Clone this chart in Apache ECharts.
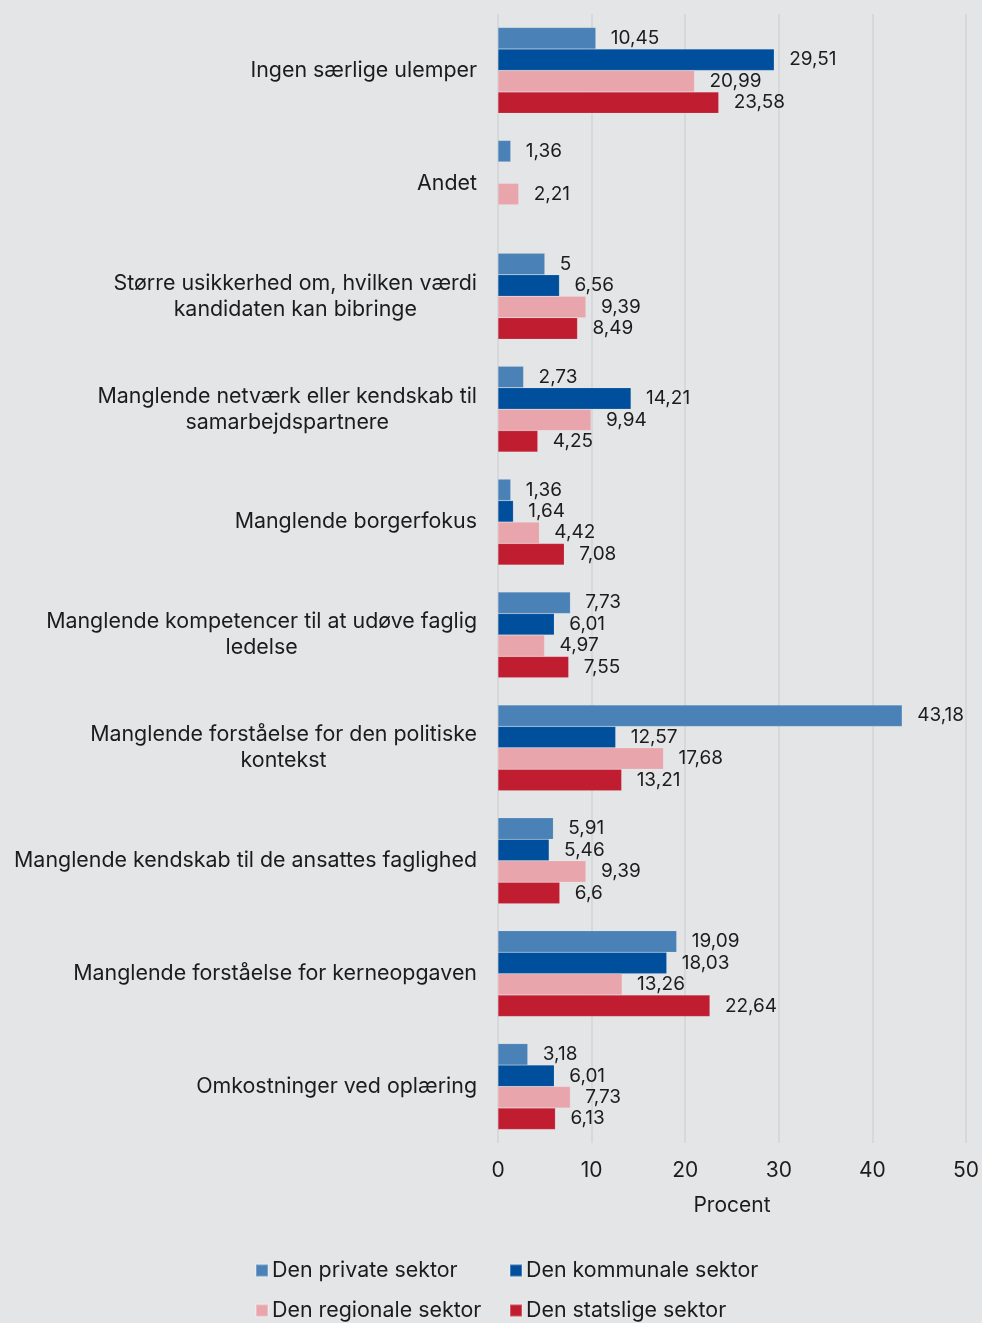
<!DOCTYPE html>
<html>
<head>
<meta charset="utf-8">
<script src="https://cdn.jsdelivr.net/npm/echarts@6/dist/echarts.min.js"></script>
<style>
  html, body { margin: 0; padding: 0; background: #e4e5e7; }
  #chart { width: 982px; height: 1323px; }
</style>
</head>
<body>
<div id="chart"></div>
<script>
// kategorier, oppefra og ned
var categories = [
	'Ingen særlige ulemper',
	'Andet',
	'Større usikkerhed om, hvilken værdi\nkandidaten kan bibringe',
	'Manglende netværk eller kendskab til\nsamarbejdspartnere',
	'Manglende borgerfokus',
	'Manglende kompetencer til at udøve faglig\nledelse',
	'Manglende forståelse for den politiske\nkontekst',
	'Manglende kendskab til de ansattes faglighed',
	'Manglende forståelse for kerneopgaven',
	'Omkostninger ved oplæring'
];

var privat    = [10.45, 1.36, 5,    2.73,  1.36, 7.73, 43.18, 5.91, 19.09, 3.18];
var kommunal  = [29.51, null, 6.56, 14.21, 1.64, 6.01, 12.57, 5.46, 18.03, 6.01];
var regional  = [20.99, 2.21, 9.39, 9.94,  4.42, 4.97, 17.68, 9.39, 13.26, 7.73];
var statslig  = [23.58, null, 8.49, 4.25,  7.08, 7.55, 13.21, 6.6,  22.64, 6.13];

var seriesNames = ['Den private sektor', 'Den kommunale sektor', 'Den regionale sektor', 'Den statslige sektor'];
var seriesData = [privat, kommunal, regional, statslig];
var colors = ['#4a81b6', '#004f9d', '#e8a6ac', '#c01d31'];

var xTicks = [0, 10, 20, 30, 40, 50];

var font = 'Inter, "Noto Sans", sans-serif';
var textColor = '#1c1c1c';

function komma(v){
	return String(v).replace('.', ',');
}

// flerlinjede etiketter centreres linje for linje
function catLabel(v){
	return v.split('\n').map(function(l){ return '{c|' + l + '}'; }).join('\n');
}

var series = seriesNames.map(function(name, i){
	return {
		name: name,
		type: 'bar',
		data: seriesData[i],
		barGap: '0%',
		barCategoryGap: '24%',
		itemStyle: { color: colors[i], borderColor: 'rgba(255,255,255,0.25)', borderWidth: 0.5 },
		label: {
			show: true,
			position: 'right',
			distance: 15,
			fontFamily: font,
			fontSize: 19,
			color: textColor,
			formatter: function(p){ return komma(p.value); }
		}
	};
});

var legends = [
	{ name: seriesNames[0], left: 255, top: 1260 },
	{ name: seriesNames[1], left: 509, top: 1260 },
	{ name: seriesNames[2], left: 255, top: 1300 },
	{ name: seriesNames[3], left: 509, top: 1300 }
].map(function(l){
	return {
		data: [l.name],
		left: l.left,
		top: l.top,
		itemWidth: 12,
		itemHeight: 12,
		itemGap: 0,
		padding: 0,
		icon: 'rect',
		textStyle: { fontFamily: font, fontSize: 21.4, color: textColor, padding: [0, 0, 0, -1] }
	};
});

var chart = echarts.init(document.getElementById('chart'));
chart.setOption({
	backgroundColor: '#e4e5e7',
	animation: false,
	grid: { left: 498, right: 16, top: 14, bottom: 180, containLabel: false },
	legend: legends,
	xAxis: {
		type: 'value',
		min: xTicks[0],
		max: xTicks[xTicks.length - 1],
		interval: 10,
		name: 'Procent',
		nameLocation: 'middle',
		nameGap: 52,
		nameTextStyle: { fontFamily: font, fontSize: 21, color: textColor },
		axisLine: { show: false },
		axisTick: { show: false },
		axisLabel: { fontFamily: font, fontSize: 21, color: textColor, margin: 17 },
		splitLine: { show: true, lineStyle: { color: '#d2d3d5', width: 1.5 } }
	},
	yAxis: {
		type: 'category',
		inverse: true,
		data: categories,
		axisLine: { show: false },
		axisTick: { show: false },
		axisLabel: {
			margin: 21,
			formatter: catLabel,
			rich: {
				c: { fontFamily: font, fontSize: 21.4, color: textColor, lineHeight: 26, align: 'center' }
			}
		}
	},
	series: series
});
</script>
</body>
</html>
